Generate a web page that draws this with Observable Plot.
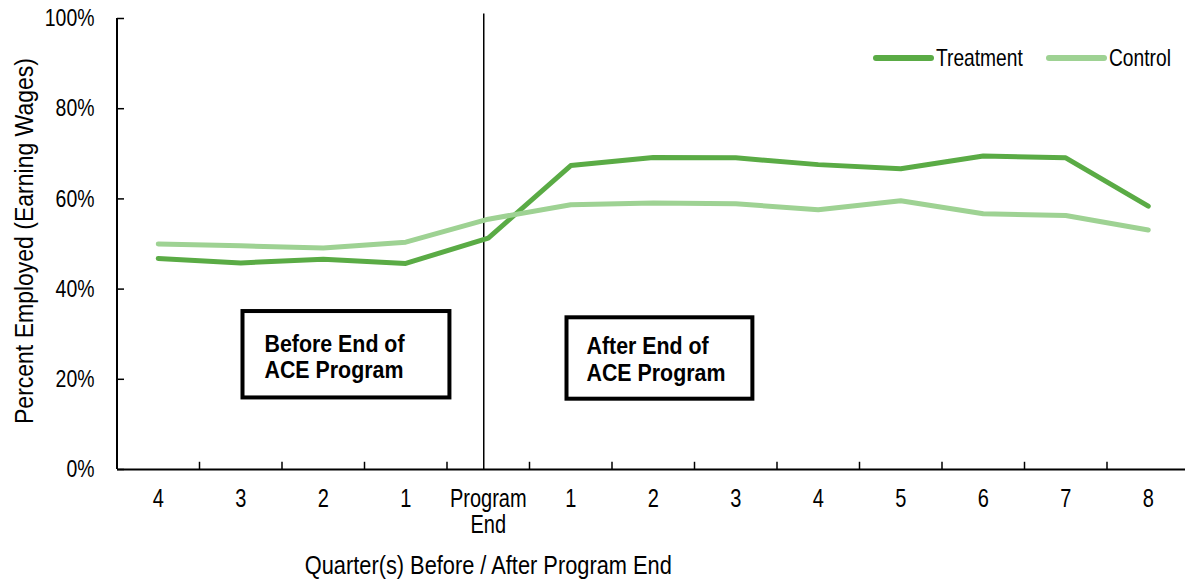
<!DOCTYPE html>
<html>
<head>
<meta charset="utf-8">
<script src="https://cdn.jsdelivr.net/npm/d3@7"></script>
<script src="https://cdn.jsdelivr.net/npm/@observablehq/plot@0.6"></script>
<style>
  body { margin: 0; background: #fff; }
  #chart { width: 1185px; height: 581px; }
</style>
</head>
<body>
<div id="chart"></div>
<script>
// Quarters relative to the end of the ACE program (negative = before)
const quarterKeys = [-4, -3, -2, -1, 0, 1, 2, 3, 4, 5, 6, 7, 8];
const quarterLabels = ["4", "3", "2", "1", "Program\nEnd", "1", "2", "3", "4", "5", "6", "7", "8"];

// Share of each group employed (earning wages) per quarter
const treatment = [0.468, 0.458, 0.466, 0.457, 0.513, 0.674, 0.692, 0.691, 0.676, 0.667, 0.695, 0.691, 0.584];
const control   = [0.500, 0.496, 0.491, 0.504, 0.555, 0.587, 0.591, 0.589, 0.576, 0.596, 0.567, 0.563, 0.531];

const seriesNames = ["Treatment", "Control"];
const seriesColors = ["#5aab45", "#9ed293"];

const yTicks = [0, 0.2, 0.4, 0.6, 0.8, 1];
const notes = ["Before End of\nACE Program", "After End of\nACE Program"];
const xTitle = "Quarter(s) Before / After Program End";
const yTitle = "Percent Employed (Earning Wages)";

// Long-format rows for the line mark
const rows = quarterKeys.flatMap((q, i) => [
  {q, series: seriesNames[0], value: treatment[i]},
  {q, series: seriesNames[1], value: control[i]}
]);

const FONT = '"Liberation Sans", Arial, sans-serif';
const xRange = [116.5, 1189];
const halfStep = (xRange[1] - xRange[0]) / quarterKeys.length / 2;
const labelOf = k => quarterLabels[quarterKeys.indexOf(k)];

const chart = Plot.plot({
  width: 1185,
  height: 581,
  marginLeft: 117,
  marginRight: 0,
  marginTop: 18,
  marginBottom: 112,
  style: {fontFamily: FONT, fontSize: "25px", color: "#000", background: "#fff", overflow: "visible"},
  x: {type: "point", domain: quarterKeys, range: xRange, padding: 0.5, align: 0.5, round: false},
  y: {domain: [0, 1], range: [469, 18]},
  color: {domain: seriesNames, range: seriesColors},
  marks: [
    // category labels under the axis
    Plot.axisX({tickSize: 0, tickPadding: 18, tickFormat: labelOf, lineHeight: 1.07, label: null}),
    // inward y ticks, then percentage labels
    Plot.axisY({ticks: yTicks, tickSize: 7, dx: 7, tickFormat: () => "", label: null, strokeWidth: 1.5}),
    Plot.axisY({ticks: yTicks, tickSize: 0, tickPadding: 23, tickFormat: d3.format(".0%"), label: null, fontSize: 24}),
    // axis lines
    Plot.ruleY([0], {stroke: "#000", strokeWidth: 2}),
    Plot.ruleX([quarterKeys[0]], {dx: -halfStep, y1: 0, y2: 1, stroke: "#000", strokeWidth: 2}),
    // x ticks between categories
    Plot.ruleX(quarterKeys.slice(1), {dx: -halfStep, y1: 0, y2: 0.016, stroke: "#000", strokeWidth: 1.5}),
    // program end divider
    Plot.ruleX([0], {dx: -4.5, y1: 0, y2: 1.01, stroke: "#000", strokeWidth: 1.5}),
    // series lines
    Plot.line(rows, {
      x: "q", y: "value", z: "series", stroke: "series",
      strokeWidth: 5, strokeLinejoin: "round", strokeLinecap: "round"
    }),
    // period notes
    Plot.text([notes[0]], {
      x: () => -3, y: () => 0.302, text: d => d, dx: 23.75,
      textAnchor: "start", lineAnchor: "top", lineHeight: 1.1,
      fontWeight: "bold", fontSize: 24, fill: "#000"
    }),
    Plot.text([notes[1]], {
      x: () => 1, y: () => 0.297, text: d => d, dx: 15.75,
      textAnchor: "start", lineAnchor: "top", lineHeight: 1.1,
      fontWeight: "bold", fontSize: 24, fill: "#000"
    }),
    // axis titles
    Plot.text([xTitle], {
      x: () => 0, frameAnchor: "bottom", dy: 104, text: d => d,
      textAnchor: "middle", lineAnchor: "bottom", fill: "#000"
    }),
    Plot.text([yTitle], {
      frameAnchor: "left", dx: -85, dy: -3, rotate: -90, text: d => d,
      textAnchor: "middle", lineAnchor: "bottom", fill: "#000"
    })
  ]
});

document.getElementById("chart").append(chart);

const svg = d3.select(chart);

// Legend in the upper right of the plot area
const legend = svg.append("g")
  .attr("font-family", FONT).attr("font-size", 24).attr("text-anchor", "start");
const legendX = [876, 1049];
seriesNames.forEach((name, i) => {
  legend.append("line")
    .attr("x1", legendX[i]).attr("x2", legendX[i] + 55)
    .attr("y1", 58).attr("y2", 58)
    .attr("stroke", seriesColors[i]).attr("stroke-width", 6)
    .attr("stroke-linecap", "round");
  legend.append("text")
    .attr("x", legendX[i] + 60).attr("y", 58)
    .attr("dy", "0.35em")
    .attr("fill", "#000")
    .text(name);
});

// Narrow the lettering: squeeze each text run horizontally to a share of its natural length
function squeeze(el, k, target) {
  const runs = el.querySelectorAll("tspan");
  const parts = runs.length ? Array.from(runs) : [el];
  for (const part of parts) {
    const len = part.getComputedTextLength();
    if (!len) continue;
    part.setAttribute("textLength", target ? target : len * k);
    part.setAttribute("lengthAdjust", "spacingAndGlyphs");
  }
}

const noteTexts = [];
svg.selectAll("text").each(function () {
  const s = this.textContent;
  if (s === xTitle) squeeze(this, 1, 367);
  else if (s === yTitle) squeeze(this, 1, 366);
  else if (s.includes("ACE")) { squeeze(this, 0.89); noteTexts.push(this); }
  else if (seriesNames.includes(s)) squeeze(this, 0.8);
  else if (s.endsWith("%")) squeeze(this, 0.81);
  else squeeze(this, 0.8);
});

// Bordered boxes around the period notes
const pads = [[22, 44, 19, 14], [20, 27, 15, 13]];
noteTexts.forEach((el, i) => {
  const box = el.getBBox();
  const [l, r, t, b] = pads[i];
  const tr = el.getAttribute("transform");
  d3.select(el.parentNode).insert("rect", () => el)
    .attr("transform", tr)
    .attr("x", box.x - l)
    .attr("y", box.y - t)
    .attr("width", box.width + l + r)
    .attr("height", box.height + t + b)
    .attr("fill", "#fff")
    .attr("stroke", "#000")
    .attr("stroke-width", 4);
});
</script>
</body>
</html>
